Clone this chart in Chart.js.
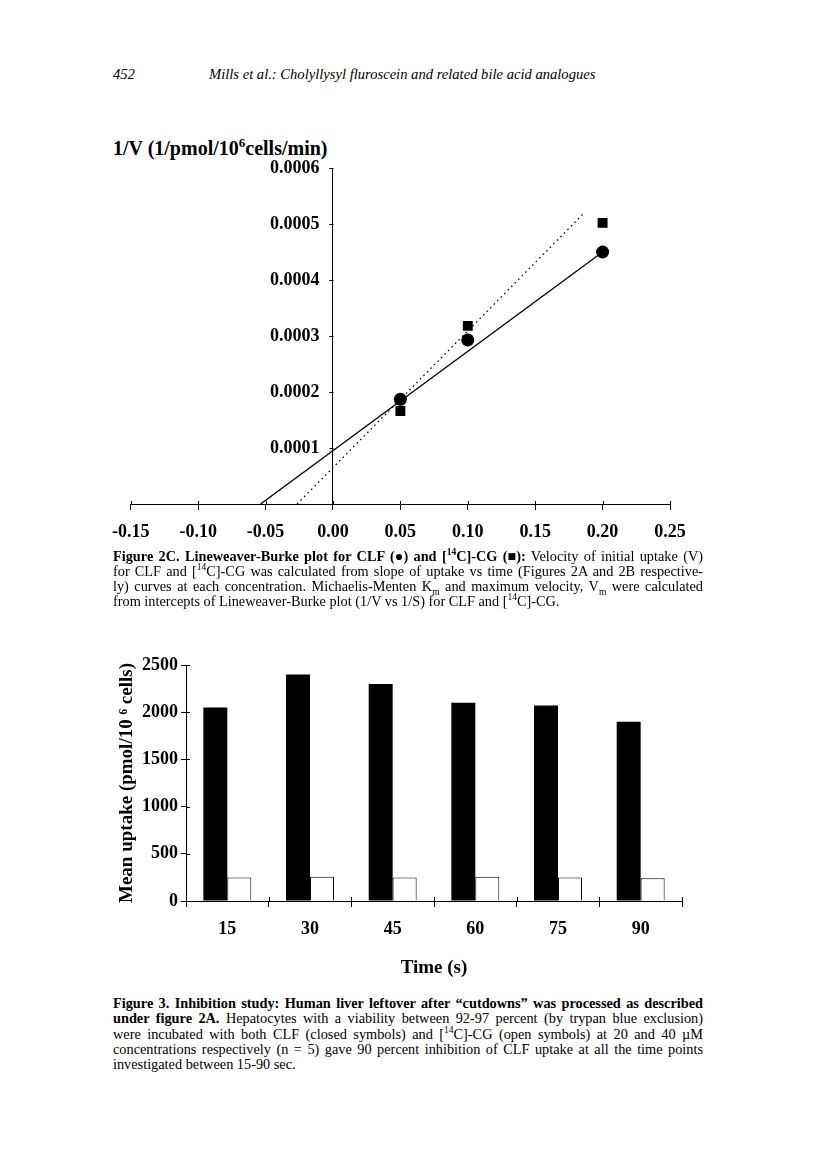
<!DOCTYPE html>
<html lang="en">
<head>
<meta charset="UTF-8">
<title>Mills et al. - Figure 2C and Figure 3</title>
<script src="https://cdn.jsdelivr.net/npm/chart.js"></script>
<style>
  body { margin: 0; background: #fff; }
  .page {
    position: relative;
    width: 816px;
    height: 1155px;
    background: #fff;
    color: #000;
    font-family: 'Liberation Serif', 'Times New Roman', serif;
    overflow: hidden;
  }
  .abs { position: absolute; white-space: nowrap; }
  .runhead { font-style: italic; font-size: 14.6px; top: 66px; }
  .plot-title { left: 113px; top: 135px; font-size: 20px; font-weight: bold; }
  .cap {
    position: absolute;
    left: 113px;
    width: 590px;
    font-size: 14.3px;
  }
  .cap div { white-space: nowrap; }
  .cap sup { font-size: 9.5px; line-height: 0; }
  .cap sub { font-size: 9.5px; line-height: 0; }
  canvas { position: absolute; }
</style>
</head>
<body>
<div class="page">
  <div class="abs runhead" style="left:113px">452</div>
  <div class="abs runhead" style="left:209px">Mills et al.: Cholyllysyl fluroscein and related bile acid analogues</div>

  <div class="abs plot-title">1/V (1/pmol/10<sup style="font-size:13px">6</sup>cells/min)</div>
  <canvas id="lbChart" width="620" height="400" style="left:100px; top:150px"></canvas>

  <div class="cap" style="top:549px; line-height:15px">
    <div><b>Figure 2C. Lineweaver-Burke plot for CLF (●) and [<sup>14</sup>C]-CG (■):</b> Velocity of initial uptake (V)</div>
    <div>for CLF and [<sup>14</sup>C]-CG was calculated from slope of uptake vs time (Figures 2A and 2B respective-</div>
    <div>ly) curves at each concentration. Michaelis-Menten K<sub>m</sub> and maximum velocity, V<sub>m</sub> were calculated</div>
    <div class="last">from intercepts of Lineweaver-Burke plot (1/V vs 1/S) for CLF and [<sup>14</sup>C]-CG.</div>
  </div>

  <canvas id="uptakeChart" width="620" height="340" style="left:100px; top:640px"></canvas>

  <div class="cap" style="top:996px; line-height:15.25px">
    <div><b>Figure 3. Inhibition study: Human liver leftover after “cutdowns” was processed as described</b></div>
    <div><b>under figure 2A.</b> Hepatocytes with a viability between 92-97 percent (by trypan blue exclusion)</div>
    <div>were incubated with both CLF (closed symbols) and [<sup>14</sup>C]-CG (open symbols) at 20 and 40 µM</div>
    <div>concentrations respectively (n = 5) gave 90 percent inhibition of CLF uptake at all the time points</div>
    <div class="last">investigated between 15-90 sec.</div>
  </div>
</div>

<script>
// Figure 2C - Lineweaver-Burke plot (1/V vs 1/S)
var invS = [0.05, 0.10, 0.20];
var clfInvV = [0.000187, 0.000293, 0.000450];
var cgInvV = [0.000166, 0.000318, 0.000502];
// end points of the fitted lines
var clfFitX = [-0.0537, 0.20];
var clfFitY = [0, 0.000450];
var cgFitX = [-0.0266, 0.1856];
var cgFitY = [0, 0.000518];
var lbXTicks = [-0.15, -0.10, -0.05, 0.00, 0.05, 0.10, 0.15, 0.20, 0.25];
var lbYTicks = [0, 0.0001, 0.0002, 0.0003, 0.0004, 0.0005, 0.0006];

// Figure 3 - inhibition study
var times = ['15', '30', '45', '60', '75', '90'];
var clfUptake = [2050, 2400, 2300, 2100, 2070, 1900];
var cgUptake = [250, 257, 250, 258, 250, 240];
var uptakeTicks = [0, 500, 1000, 1500, 2000, 2500];

// justify the caption lines to the column width, keeping the printed line breaks
(function () {
    var colWidth = 590;
    document.querySelectorAll('.cap div').forEach(function (line) {
        var r = document.createRange();
        r.selectNodeContents(line);
        var w = r.getBoundingClientRect().width;
        var text = line.textContent.trim();
        if (w > colWidth) {
            line.style.letterSpacing = ((colWidth - w) / text.length) + 'px';
        } else if (!line.classList.contains('last')) {
            var spaces = text.split(' ').length - 1;
            if (spaces > 0) line.style.wordSpacing = ((colWidth - w) / spaces) + 'px';
        }
    });
})();

function toPoints(xs, ys) {
    return xs.map(function (x, i) { return { x: x, y: ys[i] }; });
}

// tick marks drawn by hand: the print has ticks crossing the axis lines
var axisTicks = {
    id: 'axisTicks',
    afterDatasetsDraw: function (chart, args, opts) {
        var ctx = chart.ctx;
        ctx.save();
        ctx.strokeStyle = '#000';
        ctx.lineWidth = 1;
        (opts.axes || []).forEach(function (a) {
            var s = chart.scales[a.id];
            var pixels = [];
            if (a.boundaries) {
                var n = s.ticks.length;
                for (var i = 0; i <= n; i++) pixels.push(s.left + i * s.width / n);
            } else {
                s.ticks.forEach(function (t) { pixels.push(s.getPixelForValue(t.value)); });
            }
            pixels.forEach(function (p) {
                p = Math.round(p) + 0.5;
                ctx.beginPath();
                if (s.isHorizontal()) {
                    ctx.moveTo(p, s.top - a.from);
                    ctx.lineTo(p, s.top - a.to);
                } else {
                    var x0 = a.crossAt !== undefined ? Math.round(chart.scales.x.getPixelForValue(a.crossAt)) + 0.5 : s.right;
                    ctx.moveTo(x0 + a.from, p);
                    ctx.lineTo(x0 + a.to, p);
                }
                ctx.stroke();
            });
        });
        ctx.restore();
    }
};

var tickFont = { family: "'Liberation Serif', 'Times New Roman', serif", size: 18, weight: 'bold' };

new Chart(document.getElementById('lbChart').getContext('2d'), {
    type: 'scatter',
    data: {
        datasets: [
            {
                label: 'CLF',
                data: toPoints(invS, clfInvV),
                pointStyle: 'circle',
                pointRadius: 6.5,
                backgroundColor: '#000',
                borderColor: '#000',
                borderWidth: 0
            },
            {
                label: '[14C]-CG',
                data: toPoints(invS, cgInvV),
                pointStyle: 'rect',
                pointRadius: 7,
                backgroundColor: '#000',
                borderColor: '#000',
                borderWidth: 0
            },
            {
                type: 'line',
                label: 'CLF fit',
                data: toPoints(clfFitX, clfFitY),
                borderColor: '#000',
                borderWidth: 1.3,
                pointRadius: 0,
                fill: false
            },
            {
                type: 'line',
                label: 'CG fit',
                data: toPoints(cgFitX, cgFitY),
                borderColor: '#000',
                borderWidth: 1.3,
                borderDash: [1.5, 3.5],
                pointRadius: 0,
                fill: false
            }
        ]
    },
    options: {
        responsive: false,
        animation: false,
        devicePixelRatio: 1,
        layout: { padding: { left: 30, right: 50, top: 18, bottom: 0 } },
        plugins: {
            legend: { display: false },
            tooltip: { enabled: false },
            axisTicks: { axes: [{ id: 'x', from: 0, to: 3 }, { id: 'y', crossAt: 0, from: 0, to: -4 }] }
        },
        scales: {
            x: {
                type: 'linear',
                position: 'bottom',
                min: -0.15,
                max: 0.25,
                afterBuildTicks: function (s) { s.ticks = lbXTicks.map(function (v) { return { value: v }; }); },
                afterFit: function (s) { s.height = 46; },
                grid: { display: true, drawOnChartArea: false, drawTicks: true, tickLength: 6, color: '#000' },
                border: { display: true, color: '#000', width: 1 },
                ticks: {
                    color: '#000',
                    font: tickFont,
                    padding: 12,
                    maxRotation: 0,
                    autoSkip: false,
                    callback: function (v) { return v.toFixed(2); }
                }
            },
            y: {
                type: 'linear',
                position: { x: 0 },
                min: 0,
                max: 0.0006,
                afterBuildTicks: function (s) { s.ticks = lbYTicks.map(function (v) { return { value: v }; }); },
                // tick marks come from the plugin
                grid: { display: false, drawOnChartArea: false },
                border: { display: true, color: '#000', width: 1 },
                ticks: {
                    color: '#000',
                    font: tickFont,
                    autoSkip: false,
                    // a centred axis ignores tick padding, so trailing spaces keep the labels off the line
                    callback: function (v) { return v === 0 ? '' : v.toFixed(4) + '   '; }
                }
            }
        }
    },
    plugins: [axisTicks]
});

new Chart(document.getElementById('uptakeChart').getContext('2d'), {
    type: 'bar',
    data: {
        labels: times,
        datasets: [
            {
                label: 'CLF',
                data: clfUptake,
                backgroundColor: '#000',
                borderColor: '#000',
                borderWidth: 0
            },
            {
                label: '[14C]-CG',
                data: cgUptake,
                backgroundColor: '#fff',
                borderColor: '#000',
                borderWidth: 1
            }
        ]
    },
    options: {
        responsive: false,
        animation: false,
        devicePixelRatio: 1,
        layout: { padding: { left: 0, right: 38, top: 25, bottom: 0 } },
        datasets: { bar: { categoryPercentage: 0.58, barPercentage: 1.0 } },
        plugins: {
            legend: { display: false },
            tooltip: { enabled: false },
            axisTicks: { axes: [{ id: 'x', from: 0, to: 4, boundaries: true }, { id: 'y', from: 0, to: 4 }] }
        },
        scales: {
            x: {
                afterFit: function (s) { s.height = 79; },
                grid: { display: true, offset: true, drawOnChartArea: false, drawTicks: true, tickLength: 6, color: '#000' },
                border: { display: true, color: '#000', width: 1 },
                ticks: { color: '#000', font: tickFont, padding: 12, maxRotation: 0 },
                title: {
                    display: true,
                    text: 'Time (s)',
                    color: '#000',
                    font: { family: "'Liberation Serif', 'Times New Roman', serif", size: 19, weight: 'bold' },
                    padding: { top: 0, bottom: 1 }
                }
            },
            y: {
                min: 0,
                max: 2500,
                afterBuildTicks: function (s) { s.ticks = uptakeTicks.map(function (v) { return { value: v }; }); },
                afterFit: function (s) { s.width = 86; },
                grid: { display: true, drawOnChartArea: false, drawTicks: true, tickLength: 5, color: '#000' },
                border: { display: true, color: '#000', width: 1 },
                ticks: {
                    color: '#000',
                    font: tickFont,
                    padding: 3,
                    autoSkip: false,
                    callback: function (v) { return String(v); }
                },
                title: {
                    display: true,
                    text: 'Mean uptake (pmol/10 \u2076 cells)',
                    color: '#000',
                    font: { family: "'Liberation Serif', 'Times New Roman', serif", size: 19, weight: 'bold' },
                    padding: { top: 16, bottom: 0 }
                }
            }
        }
    },
    plugins: [axisTicks]
});
</script>
</body>
</html>
